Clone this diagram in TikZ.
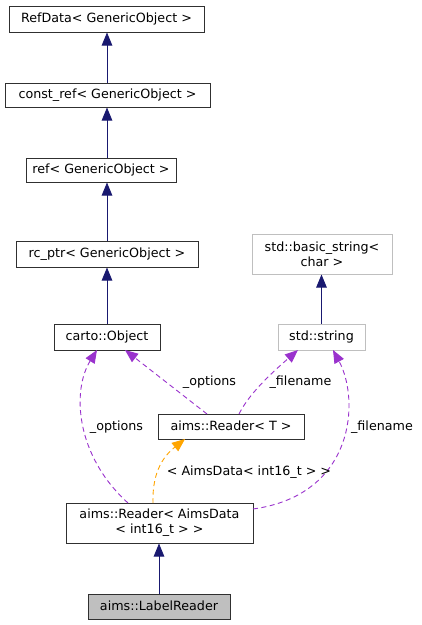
\documentclass[tikz,border=0pt]{standalone}
\usepackage{fontspec}
\setmainfont{DejaVu Sans}
\usetikzlibrary{arrows.meta}
\definecolor{edgeblue}{HTML}{191970}
\definecolor{dpurple}{HTML}{9A32CD}
\definecolor{dorange}{HTML}{FFA500}
\definecolor{greybox}{HTML}{BFBFBF}
\definecolor{boxline}{HTML}{303030}
\begin{document}
\begin{tikzpicture}[x=1pt,y=-1pt,
  every node/.style={font=\fontsize{12.7}{15}\selectfont, inner sep=0pt},
  cls/.style={draw=boxline, line width=1pt, fill=white, text height=9.5pt, text depth=2.5pt, align=center},
  extcls/.style={cls, draw=greybox},
  curcls/.style={cls, fill=greybox},
  twoline/.style={text height=, text depth=},
  lbl/.style={text height=9.5pt, text depth=2.5pt},
  inh/.style={draw=edgeblue, line width=0.9pt, -{Triangle[length=13pt,width=10.5pt]}, edgeblue},
  use/.style={draw=dpurple, line width=0.9pt, dash pattern=on 5pt off 3.5pt, -{Triangle[length=13pt,width=10.5pt]}, dpurple},
  tmpl/.style={draw=dorange, line width=0.9pt, dash pattern=on 5pt off 3.5pt, -{Triangle[length=13pt,width=10.5pt]}, dorange}]
\useasboundingbox (0,0) rectangle (422,625);
\fill[white] (0,0) rectangle (422,625);

\node[cls, minimum width=195pt, minimum height=26pt] (refdata) at (106.5,19) {RefData< GenericObject >};
\node[cls, minimum width=205pt, minimum height=24pt] (constref) at (107.5,95) {const\_ref< GenericObject >};
\node[cls, minimum width=150pt, minimum height=24pt] (ref) at (101,170) {ref< GenericObject >};
\node[cls, minimum width=182pt, minimum height=26pt] (rcptr) at (107,254) {rc\_ptr< GenericObject >};
\node[cls, minimum width=106pt, minimum height=26pt] (carto) at (107,337) {carto::Object};
\node[extcls, twoline, minimum width=140pt, minimum height=40pt] (basicstr) at (322,254) {std::basic\_string<\\char >};
\node[extcls, minimum width=87pt, minimum height=26pt] (stdstr) at (321.5,337) {std::string};
\node[cls, minimum width=146pt, minimum height=25pt] (readerT) at (231,426.5) {aims::Reader< T >};
\node[cls, twoline, minimum width=187pt, minimum height=40pt] (readerA) at (159.5,523) {aims::Reader< AimsData\\< int16\_t > >};
\node[curcls, minimum width=142pt, minimum height=25pt] (label) at (159,606.5) {aims::LabelReader};

% inheritance
\draw[inh] (constref.north -| 107,0) -- (refdata.south -| 107,0);
\draw[inh] (ref.north -| 107,0) -- (constref.south -| 107,0);
\draw[inh] (rcptr.north) -- (rcptr.north |- ref.south);
\draw[inh] (carto.north) -- (carto.north |- rcptr.south);
\draw[inh] (stdstr.north) -- (stdstr.north |- basicstr.south);
\draw[inh] (label.north) -- (label.north |- readerA.south);

% usage
\coordinate (rtA) at (207,414);
\coordinate (rtB) at (239,414);
\coordinate (cartoA) at (125,350);
\coordinate (cartoB) at (97,350);
\coordinate (strA) at (298,350);
\coordinate (strB) at (333,350);
\coordinate (raA) at (128,503);
\coordinate (raB) at (253,509);
\coordinate (raC) at (153,503);
\coordinate (rtC) at (185,439);

\draw[use] (rtA) -- (cartoA);
\draw[use] (rtB) .. controls (250,392) and (275,370) .. (strA);
\draw[use] (raA) .. controls (75,455) and (72,390) .. (cartoB);
\draw[use] (raB) .. controls (355,495) and (360,400) .. (strB);
\draw[tmpl] (raC) .. controls (152,470) and (165,455) .. (rtC);

\node[lbl] (l1) at (209.5,381.5) {\_options};
\node[lbl] (l2) at (300.5,381.5) {\_filename};
\node[lbl] (l3) at (116.5,426.5) {\_options};
\node[lbl] (l4) at (382,426.5) {\_filename};
\node[lbl] (l5) at (249,471.5) {< AimsData< int16\_t > >};
\end{tikzpicture}
\end{document}
